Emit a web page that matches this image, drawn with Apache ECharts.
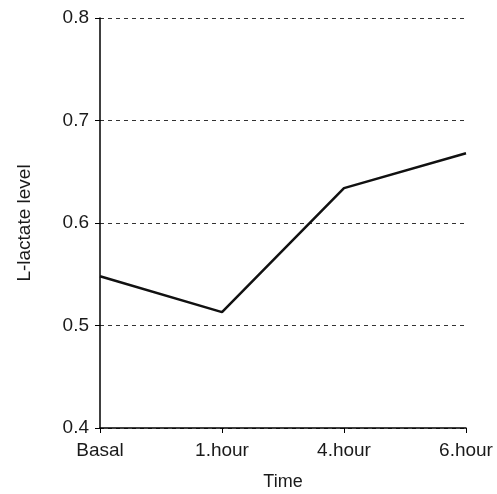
<!DOCTYPE html>
<html>
<head>
    <meta charset="utf-8">
    <script src="https://cdn.jsdelivr.net/npm/echarts@6/dist/echarts.min.js"></script>
    <style>
        html, body { margin: 0; padding: 0; background: #fff; }
        #chart { width: 497px; height: 494px; }
    </style>
</head>
<body>
    <div id="chart"></div>
<script type="text/javascript">
    // data
    var categories = ['Basal', '1.hour', '4.hour', '6.hour'];
    var lactate = [0.548, 0.513, 0.634, 0.668];
    var yTicks = { min: 0.4, max: 0.8, interval: 0.1 };

    var chart = echarts.init(document.getElementById('chart'));

    var option = {
        backgroundColor: '#fff',
        animation: false,
        textStyle: { fontFamily: 'Liberation Sans, Arial, sans-serif' },
        grid: {
            left: 100, right: 31, top: 18, bottom: 66,
            containLabel: false,
            outerBoundsMode: 'none'   // keep the plot box fixed, let 6.hour run to the edge
        },
        xAxis: {
            type: 'category',
            data: categories,
            boundaryGap: false,
            name: 'Time',
            nameLocation: 'middle',
            nameGap: 45,
            nameTextStyle: { fontSize: 18, color: '#1a1a1a' },
            axisLine: { lineStyle: { color: '#000', width: 1.5 } },
            axisTick: { alignWithLabel: true, length: 5, lineStyle: { color: '#000' } },
            axisLabel: { fontSize: 19, color: '#1a1a1a', margin: 13, showMinLabel: true },
            splitLine: { show: false }
        },
        yAxis: {
            type: 'value',
            min: yTicks.min,
            max: yTicks.max,
            interval: yTicks.interval,
            name: 'L-lactate level',
            nameLocation: 'middle',
            nameGap: 66,
            nameTextStyle: { fontSize: 19, color: '#1a1a1a' },
            axisLine: { show: true, lineStyle: { color: '#000', width: 1.5 } },
            axisTick: { show: true, length: 5, lineStyle: { color: '#000' } },
            axisLabel: {
                fontSize: 19, color: '#1a1a1a', margin: 11,
                formatter: function (v) { return v.toFixed(1); }
            },
            splitLine: { show: true, lineStyle: { color: '#333', type: [4, 4], width: 1 } }
        },
        series: [{
            type: 'line',
            data: lactate,
            symbol: 'none',
            lineStyle: { color: '#111', width: 2.5 }
        }]
    };

    chart.setOption(option);
</script>
</body>
</html>
